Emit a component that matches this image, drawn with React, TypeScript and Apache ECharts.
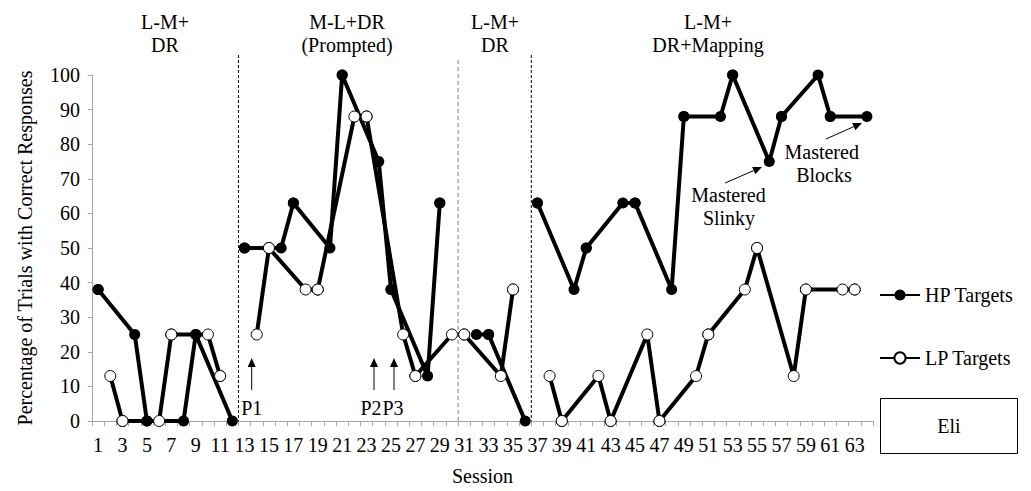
import React, { useEffect, useRef } from 'react';
import * as echarts from 'echarts';

// Session categories 1..64
const sessions: string[] = Array.from({ length: 64 }, (_, i) => String(i + 1));

// High-preference targets: session numbers and percent correct
const hpSessions = [1, 4, 5, 8, 9, 12, 13, 16, 17, 20, 21, 24, 25, 28, 29, 32, 33, 36, 37, 40, 41, 44, 45, 48, 49, 52, 53, 56, 57, 60, 61, 64];
const hpValues = [38, 25, 0, 0, 25, 0, 50, 50, 63, 50, 100, 75, 38, 13, 63, 25, 25, 0, 63, 38, 50, 63, 63, 38, 88, 88, 100, 75, 88, 100, 88, 88];

// Low-preference targets
const lpSessions = [2, 3, 6, 7, 10, 11, 14, 15, 18, 19, 22, 23, 26, 27, 30, 31, 34, 35, 38, 39, 42, 43, 46, 47, 50, 51, 54, 55, 58, 59, 62, 63];
const lpValues = [13, 0, 0, 25, 25, 13, 25, 50, 38, 38, 88, 88, 25, 13, 25, 25, 13, 38, 13, 0, 13, 0, 25, 0, 13, 25, 38, 50, 13, 38, 38, 38];

// Last session of each phase (except the final one)
const phaseEnds = [12, 30, 36];
const phaseTitles = [
  ['L-M+', 'DR'],
  ['M-L+DR', '(Prompted)'],
  ['L-M+', 'DR'],
  ['L-M+', 'DR+Mapping'],
];

const FONT = 'Liberation Serif';
const AXIS_GREY = '#a6a6a6';

// Line data with a gap inserted at every phase change
function lineData(sess: number[], vals: number[]) {
  const out: any[] = [];
  sess.forEach((s, i) => {
    if (i > 0 && phaseEnds.some((e) => sess[i - 1] <= e && s > e)) out.push([String(s), '-']);
    out.push([String(s), vals[i]]);
  });
  return out;
}
const pointData = (sess: number[], vals: number[]) => sess.map((s, i) => [String(s), vals[i]]);

function text(str: string, x: number, y: number) {
  return {
    type: 'text',
    silent: true,
    style: {
      text: str, x, y, fill: '#000',
      fontSize: 20, fontFamily: FONT,
      textAlign: 'center', align: 'center', textVerticalAlign: 'middle', verticalAlign: 'middle',
    },
  };
}

function arrow(x1: number, y1: number, x2: number, y2: number) {
  const ang = Math.atan2(y2 - y1, x2 - x1);
  const len = 9;
  const half = 4;
  const bx = x2 - len * Math.cos(ang);
  const by = y2 - len * Math.sin(ang);
  const px = -Math.sin(ang) * half;
  const py = Math.cos(ang) * half;
  return [
    { type: 'line', silent: true, shape: { x1, y1, x2: bx, y2: by }, style: { stroke: '#000', lineWidth: 1 } },
    { type: 'polygon', silent: true, shape: { points: [[x2, y2], [bx + px, by + py], [bx - px, by - py]] }, style: { fill: '#000' } },
  ];
}

export default function App() {
  const ref = useRef<HTMLDivElement>(null);

  useEffect(() => {
    document.body.style.margin = '0';
    const chart = echarts.init(ref.current!, null, { renderer: 'svg' });

    const legendBase = {
      left: 874,
      orient: 'vertical',
      itemWidth: 40,
      itemHeight: 14,
      selectedMode: false,
      textStyle: { fontFamily: FONT, fontSize: 20, color: '#000' },
    };

    chart.setOption({
      animation: false,
      textStyle: { fontFamily: FONT },
      grid: { left: 92, right: 158, top: 75, bottom: 66, containLabel: false },
      legend: [
        { ...legendBase, top: 280, data: ['HP Targets'] },
        { ...legendBase, top: 343, data: ['LP Targets'] },
      ],
      xAxis: {
        type: 'category',
        data: sessions,
        boundaryGap: true,
        name: 'Session',
        nameLocation: 'middle',
        nameGap: 45,
        nameTextStyle: { fontFamily: FONT, fontSize: 20, color: '#000' },
        axisLine: { lineStyle: { color: AXIS_GREY, width: 1 } },
        axisTick: { show: true, interval: 0, length: 5, lineStyle: { color: AXIS_GREY } },
        axisLabel: { interval: 1, fontFamily: FONT, fontSize: 20, color: '#000', margin: 14 },
        splitLine: { show: false },
      },
      yAxis: {
        type: 'value',
        min: 0,
        max: 100,
        interval: 10,
        name: 'Percentage of Trials with Correct Responses',
        nameLocation: 'middle',
        nameGap: 57,
        nameTextStyle: { fontFamily: FONT, fontSize: 20, color: '#000' },
        axisLine: { show: true, lineStyle: { color: AXIS_GREY, width: 1 } },
        axisTick: { show: true, length: 4, lineStyle: { color: AXIS_GREY } },
        axisLabel: { fontFamily: FONT, fontSize: 20, color: '#000', margin: 12 },
        splitLine: { show: false },
      },
      series: [
        {
          name: 'HP Targets', type: 'line', data: lineData(hpSessions, hpValues),
          symbol: 'circle', symbolSize: 11, connectNulls: false, silent: true, z: 2,
          lineStyle: { color: '#000', width: 4 }, itemStyle: { color: '#000' },
        },
        {
          name: 'LP Targets', type: 'line', data: lineData(lpSessions, lpValues),
          symbol: 'circle', symbolSize: 11, connectNulls: false, silent: true, z: 2,
          lineStyle: { color: '#000', width: 4 },
          itemStyle: { color: '#fff', borderColor: '#000', borderWidth: 1 },
        },
        {
          name: 'lp-markers', type: 'scatter', data: pointData(lpSessions, lpValues),
          symbol: 'circle', symbolSize: 11, silent: true, z: 3,
          itemStyle: { color: '#fff', borderColor: '#000', borderWidth: 1, opacity: 1 },
        },
        {
          name: 'hp-markers', type: 'scatter', data: pointData(hpSessions, hpValues),
          symbol: 'circle', symbolSize: 11, silent: true, z: 4,
          itemStyle: { color: '#000', opacity: 1 },
        },
      ],
    });

    // Phase-change lines sit halfway between neighbouring sessions
    const px = (s: number) => chart.convertToPixel({ xAxisIndex: 0 }, String(s)) as number;
    const yZero = chart.convertToPixel({ yAxisIndex: 0 }, 0) as number;
    const bounds = phaseEnds.map((e) => (px(e) + px(e + 1)) / 2);
    const elements: any[] = [];
    bounds.forEach((x, i) => {
      const grey = i === 1;
      elements.push({
        type: 'line', silent: true,
        shape: { x1: x, y1: grey ? 60 : 55, x2: x, y2: yZero },
        style: { stroke: grey ? '#808080' : '#000', lineWidth: 1, lineDash: grey ? [4, 3] : [3, 2] },
      });
    });

    // Phase titles
    const titleX = [165, 347, 495, 708];
    phaseTitles.forEach((t, i) => {
      elements.push(text(t[0], titleX[i], 22));
      elements.push(text(t[1], titleX[i], 45));
    });

    // Prompt markers
    [[251.7, 'P1', 251.7], [374, 'P2', 371], [394, 'P3', 393]].forEach(([ax, lbl, tx]) => {
      elements.push(...arrow(ax as number, 390, ax as number, 358));
      elements.push(text(lbl as string, tx as number, 408));
    });

    // Mastery notes
    elements.push(text('Mastered', 728.5, 195), text('Slinky', 729, 218));
    elements.push(...arrow(725, 183, 762, 167));
    elements.push(text('Mastered', 821.7, 152), text('Blocks', 824, 175));
    elements.push(...arrow(826, 139, 862, 123));

    // Participant box
    elements.push({
      type: 'rect', silent: true,
      shape: { x: 880.5, y: 398.5, width: 137, height: 55 },
      style: { fill: '#fff', stroke: '#000', lineWidth: 1 },
    });
    elements.push(text('Eli', 949, 426));

    chart.setOption({ graphic: elements });

    return () => chart.dispose();
  }, []);

  return <div ref={ref} style={{ width: 1031, height: 491 }} />;
}
